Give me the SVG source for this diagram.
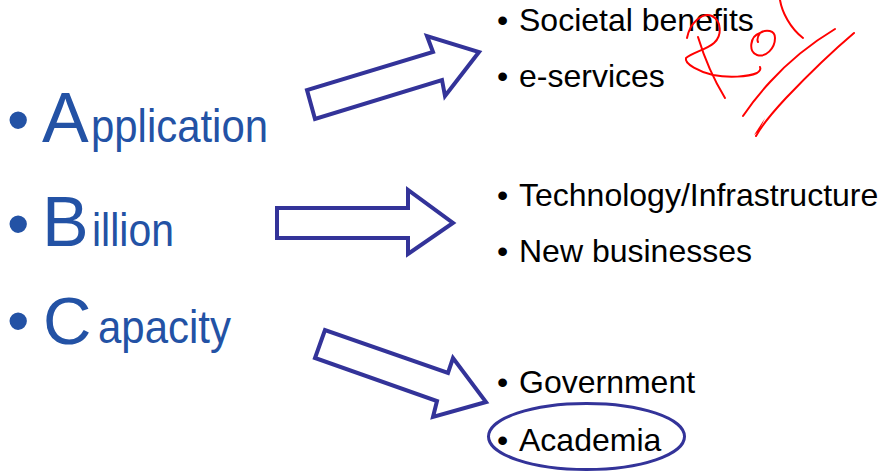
<svg xmlns="http://www.w3.org/2000/svg" width="887" height="471" viewBox="0 0 887 471">
<style>
.bl{font-family:"Liberation Sans",Arial,sans-serif;fill:#2352a5}
.bk{font-family:"Liberation Sans",Arial,sans-serif;fill:#000;font-size:32px}
.arr{fill:#fff;stroke:#333399;stroke-width:4;stroke-linejoin:miter}
.ink{fill:none;stroke:#f00;stroke-width:2;stroke-linecap:round;stroke-linejoin:round}
</style>
<rect width="887" height="471" fill="#fff"/>
<g id="application">
<text class="bl" x="7" y="142" font-size="64">•</text>
<text class="bl" x="42" y="142" font-size="70">A</text>
<text class="bl" x="91" y="142" font-size="46" textLength="177" lengthAdjust="spacingAndGlyphs">pplication</text>
</g>
<g id="billion">
<text class="bl" x="7" y="246" font-size="64">•</text>
<text class="bl" x="42" y="246" font-size="70">B</text>
<text class="bl" x="92" y="246" font-size="46" textLength="82" lengthAdjust="spacingAndGlyphs">illion</text>
</g>
<g id="capacity">
<text class="bl" x="7" y="343" font-size="64">•</text>
<text class="bl" x="43" y="344" font-size="67">C</text>
<text class="bl" x="98" y="343" font-size="46" textLength="133" lengthAdjust="spacingAndGlyphs">apacity</text>
</g>
<g id="right-a">
<text class="bk" x="497" y="31">•</text><text class="bk" x="519" y="31">Societal benefits</text>
<text class="bk" x="497" y="87">•</text><text class="bk" x="519" y="87">e-services</text>
</g>
<g id="right-b">
<text class="bk" x="497" y="206">•</text><text class="bk" x="519" y="206">Technology/Infrastructure</text>
<text class="bk" x="497" y="262">•</text><text class="bk" x="519" y="262">New businesses</text>
</g>
<g id="right-c">
<text class="bk" x="497" y="393">•</text><text class="bk" x="519" y="393">Government</text>
<text class="bk" x="497" y="451">•</text><text class="bk" x="519" y="451">Academia</text>
<ellipse cx="586.5" cy="436.5" rx="98" ry="33" fill="none" stroke="#333399" stroke-width="3"/>
</g>
<g id="connectors">
<polygon class="arr" points="315,119 307,90 433,52 427,36 479,52 445,96 442,80"/>
<polygon class="arr" points="277,208 408,208 408,190 453,223 408,254 408,238 277,238"/>
<polygon class="arr" points="325,330 315,358 437,401 433,417 486,402 453,358 448,373"/>
</g>
<g id="annotation">
<path class="ink" d="M687,38 C690,22 703,12 712,16 C722,21 722,36 714,43 C706,50 693,52 686,58 C684,64 700,72 713,75 C728,78 748,77 757,73 C760,71 761,69 760,67"/>
<path class="ink" d="M698,37 C705,60 714,80 725,98"/>
<path class="ink" d="M760,33 C750,36 748,52 757,55 C766,58 775,48 775,38 C775,30 766,29 760,33 C758,36 757,40 758,42"/>
<path class="ink" d="M780,0 C782,12 790,28 803,38"/>
<path class="ink" d="M835,29 C810,44 790,60 770,82 C757,96 749,107 743,116"/>
<path class="ink" d="M854,33 C828,55 806,77 786,98 C772,113 762,125 756,136"/>
<path d="M754,135 L765,118 L759,131 Z" fill="#f00"/>
</g>
</svg>
